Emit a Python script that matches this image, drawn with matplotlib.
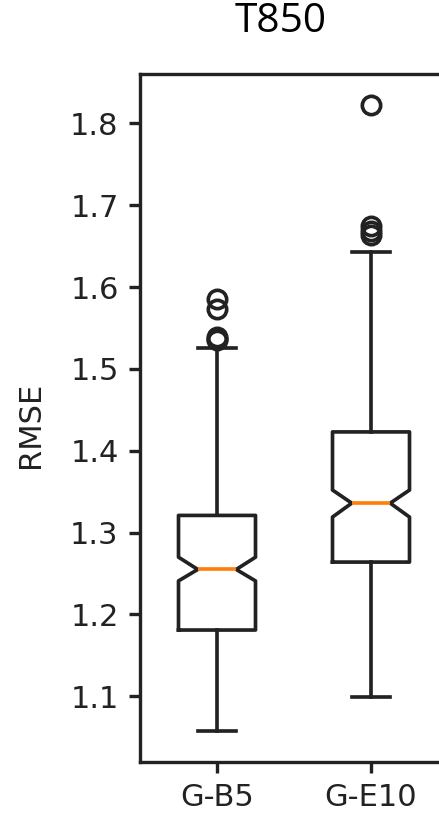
import matplotlib
matplotlib.use("Agg")
import matplotlib.pyplot as plt

# values (RMSE of T850)
labels = ["G-B5", "G-E10"]
whislo = [1.058, 1.099]
q1 = [1.181, 1.264]
med = [1.255, 1.336]
q3 = [1.321, 1.423]
whishi = [1.525, 1.643]
cilo = [1.241, 1.319]
cihi = [1.270, 1.352]
fliers = [
    [1.535, 1.537, 1.539, 1.573, 1.585],
    [1.664, 1.669, 1.675, 1.822],
]

stats = []
for i in range(len(labels)):
    stats.append(dict(label=labels[i], whislo=whislo[i], q1=q1[i], med=med[i],
                      q3=q3[i], whishi=whishi[i], cilo=cilo[i], cihi=cihi[i],
                      fliers=fliers[i]))

dpi = 220
fig = plt.figure(figsize=(439 / dpi, 815 / dpi), dpi=dpi)
ax = fig.add_axes([140 / 439, 53 / 815, 308 / 439, 688 / 815])

lc = "#222222"
ax.bxp(stats, shownotches=True, widths=0.5,
       boxprops=dict(color=lc, linewidth=1.2),
       whiskerprops=dict(color=lc, linewidth=1.2),
       capprops=dict(color=lc, linewidth=1.2),
       medianprops=dict(color="#ff7f0e", linewidth=1.2),
       flierprops=dict(markeredgecolor=lc, markeredgewidth=1.2))
ax.set_xlim(0.5, 2.5)
ax.set_ylabel("RMSE", color="#222222")
ax.yaxis.set_label_coords(-0.31, 0.49)
for s in ax.spines.values():
    s.set_linewidth(1.1)
    s.set_color(lc)
ax.tick_params(colors="#222222", width=1.1)

fig.text(281 / 439, 1 - 22 / 815, "T850", ha="center", va="center",
         fontsize=13.3, family=["Open Sans", "DejaVu Sans"])

fig.savefig("out.png", dpi=dpi)
